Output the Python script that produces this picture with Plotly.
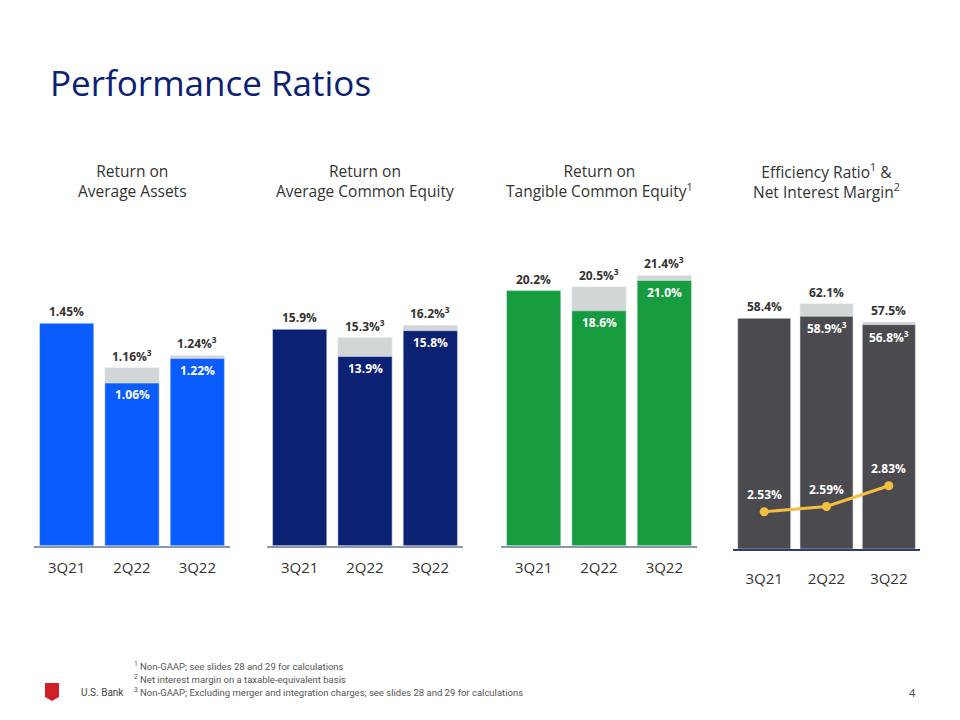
import plotly.graph_objects as go

quarters = ["3Q21", "2Q22", "3Q22"]

roa_front = [1.45, 1.06, 1.22]
roa_back = [None, 1.16, 1.24]
roce_front = [15.9, 13.9, 15.8]
roce_back = [None, 15.3, 16.2]
rotce_front = [20.2, 18.6, 21.0]
rotce_back = [None, 20.5, 21.4]
eff_front = [58.4, 58.9, 56.8]
eff_back = [None, 62.1, 57.5]
nim = [2.53, 2.59, 2.83]

headers = [
    "Return on<br>Average Assets",
    "Return on<br>Average Common Equity",
    "Return on<br>Tangible Common Equity<sup>1</sup>",
    "Efficiency Ratio<sup>1</sup> &<br>Net Interest Margin<sup>2</sup>",
]

footnotes = [
    "<sup>1</sup> Non-GAAP; see slides 28 and 29 for calculations",
    "<sup>2</sup> Net interest margin on a taxable-equivalent basis",
    "<sup>3</sup> Non-GAAP; Excluding merger and integration charges; see slides 28 and 29 for calculations",
]

W, H = 960, 720
FONT = "Open Sans"
GRAY = "#D3D6D6"
TXT = "#333333"

def px_x(p):
    return p / W

def px_y(p):
    return 1 - p / H

panels = [
    dict(front=roa_front, back=roa_back, color="#0A5CFF", fmt="{:.2f}%",
         xd=(34, 230), yd=(545.7, 230), rng=(0, 2.058), sup_top=True, width=0.83,
         axcol="#8A97AD"),
    dict(front=roce_front, back=roce_back, color="#0C2074", fmt="{:.1f}%",
         xd=(267, 463), yd=(545.7, 230), rng=(0, 23.2), sup_top=True, width=0.83,
         axcol="#8A97AD"),
    dict(front=rotce_front, back=rotce_back, color="#169B3E", fmt="{:.1f}%",
         xd=(501, 697), yd=(545.7, 230), rng=(0, 25.0), sup_top=True, width=0.83,
         axcol="#8A97AD"),
    dict(front=eff_front, back=eff_back, color="#4A4A4F", fmt="{:.1f}%",
         xd=(733, 920), yd=(549, 230), rng=(0, 80.76), sup_top=False, width=0.85,
         axcol="#2D3A7C"),
]

fig = go.Figure()
annotations = []

for i, p in enumerate(panels, start=1):
    xa = "x" if i == 1 else f"x{i}"
    ya = "y" if i == 1 else f"y{i}"
    fig.add_trace(go.Bar(x=quarters, y=p["back"], marker_color=GRAY, width=p["width"],
                         xaxis=xa, yaxis=ya, showlegend=False, hoverinfo="skip"))
    fig.add_trace(go.Bar(x=quarters, y=p["front"], marker_color=p["color"], width=p["width"],
                         xaxis=xa, yaxis=ya, showlegend=False))
    for q, f, b in zip(quarters, p["front"], p["back"]):
        if b is None:
            annotations.append(dict(x=q, y=f, xref=xa, yref=ya, text=p["fmt"].format(f),
                                    showarrow=False, yanchor="bottom", yshift=1,
                                    font=dict(family=FONT, size=12, color=TXT, weight="bold")))
        else:
            top_txt = p["fmt"].format(b) + ("<sup>3</sup>" if p["sup_top"] else "")
            in_txt = p["fmt"].format(f) + ("" if p["sup_top"] else "<sup>3</sup>")
            annotations.append(dict(x=q, y=b, xref=xa, yref=ya, text=top_txt,
                                    showarrow=False, yanchor="bottom", yshift=1,
                                    font=dict(family=FONT, size=12, color=TXT, weight="bold")))
            annotations.append(dict(x=q, y=f, xref=xa, yref=ya, text=in_txt,
                                    showarrow=False, yanchor="top", yshift=-1,
                                    font=dict(family=FONT, size=12, color="white", weight="bold")))
    axis_x = dict(domain=[px_x(p["xd"][0]), px_x(p["xd"][1])], anchor=ya,
                  showline=True, linecolor=p["axcol"], linewidth=1.5,
                  showgrid=False, ticks="", zeroline=False,
                  tickfont=dict(family=FONT, size=15, color=TXT),
                  categoryorder="array", categoryarray=quarters,
                  ticklabelstandoff=8 if i < 4 else 15)
    axis_y = dict(domain=[px_y(p["yd"][0]), px_y(p["yd"][1])], anchor=xa,
                  range=list(p["rng"]), visible=False, showgrid=False, zeroline=False)
    fig.update_layout({("xaxis" if i == 1 else f"xaxis{i}"): axis_x,
                       ("yaxis" if i == 1 else f"yaxis{i}"): axis_y})
    cx = (p["xd"][0] + p["xd"][1]) / 2
    annotations.append(dict(x=px_x(cx), y=px_y(180.5), xref="paper", yref="paper",
                            text=headers[i - 1], showarrow=False, align="center",
                            xanchor="center", yanchor="middle",
                            font=dict(family=FONT, size=15.5, color=TXT)))

# NIM line on secondary axis of panel 4
fig.add_trace(go.Scatter(x=quarters, y=nim, xaxis="x4", yaxis="y5", mode="lines+markers",
                         line=dict(color="#F5BE41", width=3), marker=dict(size=9, color="#F5BE41"),
                         showlegend=False))
fig.update_layout(yaxis5=dict(domain=[px_y(549), px_y(230)], overlaying="y4", anchor="x4",
                              range=[2.10, 5.78], visible=False, showgrid=False, zeroline=False))
for q, v in zip(quarters, nim):
    annotations.append(dict(x=q, y=v, xref="x4", yref="y5", text=f"{v:.2f}%",
                            showarrow=False, yanchor="bottom", yshift=7,
                            font=dict(family=FONT, size=12, color="white", weight="bold")))

# Title
annotations.append(dict(x=px_x(48), y=px_y(82), xref="paper", yref="paper",
                        text="Performance Ratios", showarrow=False, xanchor="left", yanchor="middle",
                        font=dict(family=FONT, size=35, color="#0C2074")))

# Footnotes
for k, t in enumerate(footnotes):
    annotations.append(dict(x=px_x(132), y=px_y(666 + 13 * k), xref="paper", yref="paper",
                            text=t, showarrow=False, xanchor="left", yanchor="middle",
                            font=dict(family="Roboto", size=9.5, color="#555555")))

annotations.append(dict(x=px_x(79), y=px_y(692), xref="paper", yref="paper", text="U.S. Bank",
                        showarrow=False, xanchor="left", yanchor="middle",
                        font=dict(family="Roboto", size=10, color="#444444")))
annotations.append(dict(x=px_x(918), y=px_y(692), xref="paper", yref="paper", text="4",
                        showarrow=False, xanchor="right", yanchor="middle",
                        font=dict(family=FONT, size=11, color="#444444")))

# Logo shield
fig.add_shape(type="path", xref="paper", yref="paper",
              path=f"M {px_x(45)} {px_y(683)} L {px_x(59)} {px_y(683)} L {px_x(59)} {px_y(697)} "
                   f"L {px_x(52)} {px_y(701)} L {px_x(45)} {px_y(697)} Z",
              fillcolor="#D11F2A", line=dict(width=0))

fig.update_layout(width=W, height=H, margin=dict(l=0, r=0, t=0, b=0),
                  paper_bgcolor="white", plot_bgcolor="rgba(0,0,0,0)",
                  barmode="overlay", annotations=annotations, showlegend=False)

fig.write_html("out.html", config={"displayModeBar": False},
               post_script="document.body.style.margin='0';document.body.style.padding='0';")
